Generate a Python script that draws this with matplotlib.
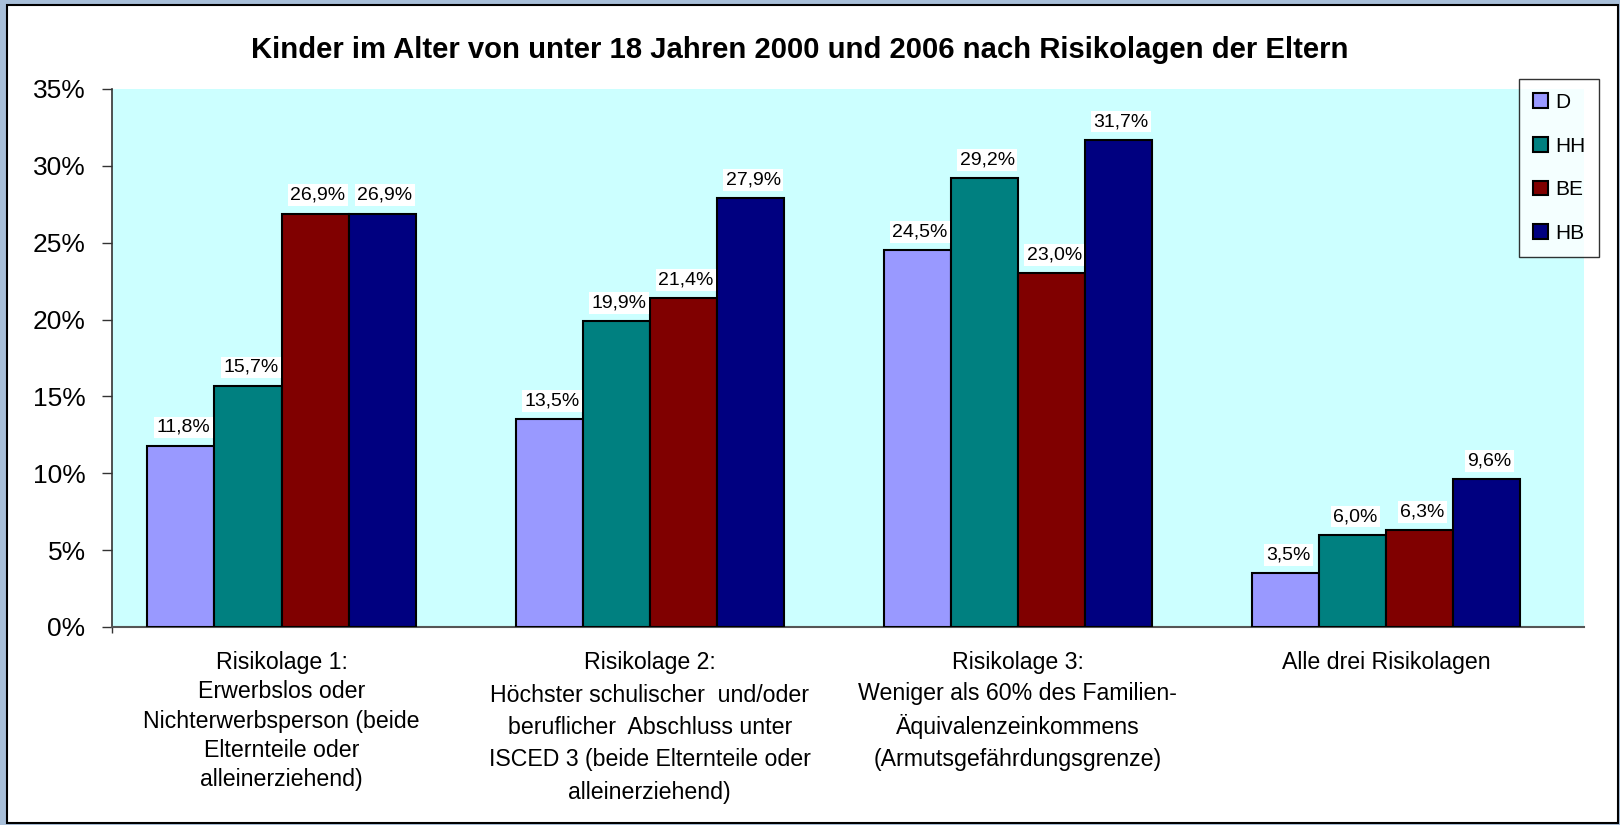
import matplotlib

matplotlib.use("Agg")
import matplotlib.pyplot as plt
import numpy as np
from matplotlib.patches import Rectangle

plt.rcParams["font.family"] = ["Liberation Sans", "DejaVu Sans"]

# Data (percent)
categories = [
    "Risikolage 1:\nErwerbslos oder\nNichterwerbsperson (beide\nElternteile oder\nalleinerziehend)",
    "Risikolage 2:\nHöchster schulischer  und/oder\nberuflicher  Abschluss unter\nISCED 3 (beide Elternteile oder\nalleinerziehend)",
    "Risikolage 3:\nWeniger als 60% des Familien-\nÄquivalenzeinkommens\n(Armutsgefährdungsgrenze)",
    "Alle drei Risikolagen",
]
series_names = ["D", "HH", "BE", "HB"]
d_values = [11.8, 13.5, 24.5, 3.5]
hh_values = [15.7, 19.9, 29.2, 6.0]
be_values = [26.9, 21.4, 23.0, 6.3]
hb_values = [26.9, 27.9, 31.7, 9.6]
y_ticks = [0, 5, 10, 15, 20, 25, 30, 35]

colors = ["#9999FF", "#008080", "#800000", "#000080"]
title = "Kinder im Alter von unter 18 Jahren 2000 und 2006 nach Risikolagen der Eltern"


def fmt(v):
    return "{:.1f}%".format(v).replace(".", ",")


def main():
    W, H = 1620, 825
    fig = plt.figure(figsize=(W / 100, H / 100), dpi=100, facecolor="#A8BFD9")

    # white chart frame
    frame = Rectangle((7 / W, 2 / H), 1611 / W, 818 / H, transform=fig.transFigure,
                      facecolor="white", edgecolor="black", linewidth=1.5, zorder=-1)
    fig.patches.append(frame)

    ax = fig.add_axes([112 / W, 1 - 627 / H, 1472 / W, 538 / H])
    ax.set_facecolor("#CCFFFF")

    x = np.arange(len(categories))
    width = 0.1822
    all_series = [d_values, hh_values, be_values, hb_values]
    for i, (name, vals) in enumerate(zip(series_names, all_series)):
        pos = x + (i - 1.5) * width
        bars = ax.bar(pos, vals, width, color=colors[i], edgecolor="black",
                      linewidth=1.5, label=name, zorder=3)
        for b, v in zip(bars, vals):
            ax.annotate(fmt(v), (b.get_x() + b.get_width() / 2, v),
                        xytext=(2, 7), textcoords="offset points",
                        ha="center", va="bottom", fontsize=14, zorder=4,
                        bbox=dict(boxstyle="square,pad=0.12", facecolor="white",
                                  edgecolor="none"))

    ax.set_xlim(-0.4604, 3.5375)
    ax.set_ylim(0, 35)
    ax.set_yticks(y_ticks)
    ax.set_yticklabels(["{}%".format(t) for t in y_ticks], fontsize=19)
    ax.tick_params(axis="y", direction="out", length=7, width=1, pad=12,
                   color="#333333")

    ax.set_xticks(x)
    ax.set_xticklabels(categories, fontsize=16.7)
    ax.tick_params(axis="x", length=0, pad=17.5)
    for lbl, ls in zip(ax.get_xticklabels(), [1.34, 1.52, 1.45, 1.3]):
        lbl.set_linespacing(ls)
    ax.set_xticks([-0.4604], minor=True)
    ax.tick_params(axis="x", which="minor", direction="out", length=4.5,
                   width=1, color="#333333")

    for s in ["top", "right"]:
        ax.spines[s].set_visible(False)
    ax.spines["left"].set_color("#333333")
    ax.spines["left"].set_linewidth(1.2)
    ax.spines["bottom"].set_color("#555555")
    ax.spines["bottom"].set_linewidth(1.5)

    fig.text(800 / W, 1 - 58 / H, title, ha="center", va="baseline",
             fontsize=21.1, fontweight="bold")

    leg = ax.legend(loc="upper left", bbox_to_anchor=(1519 / W, 1 - 79 / H),
                    bbox_transform=fig.transFigure, borderaxespad=0,
                    fontsize=15, frameon=True, fancybox=False,
                    edgecolor="black", handlelength=0.72, handleheight=0.72,
                    handletextpad=0.35, labelspacing=1.19, borderpad=0.66)
    leg.get_frame().set_linewidth(1.0)
    leg.set_zorder(10)

    fig.savefig("out.png", dpi=100, facecolor=fig.get_facecolor())


if __name__ == "__main__":
    main()
